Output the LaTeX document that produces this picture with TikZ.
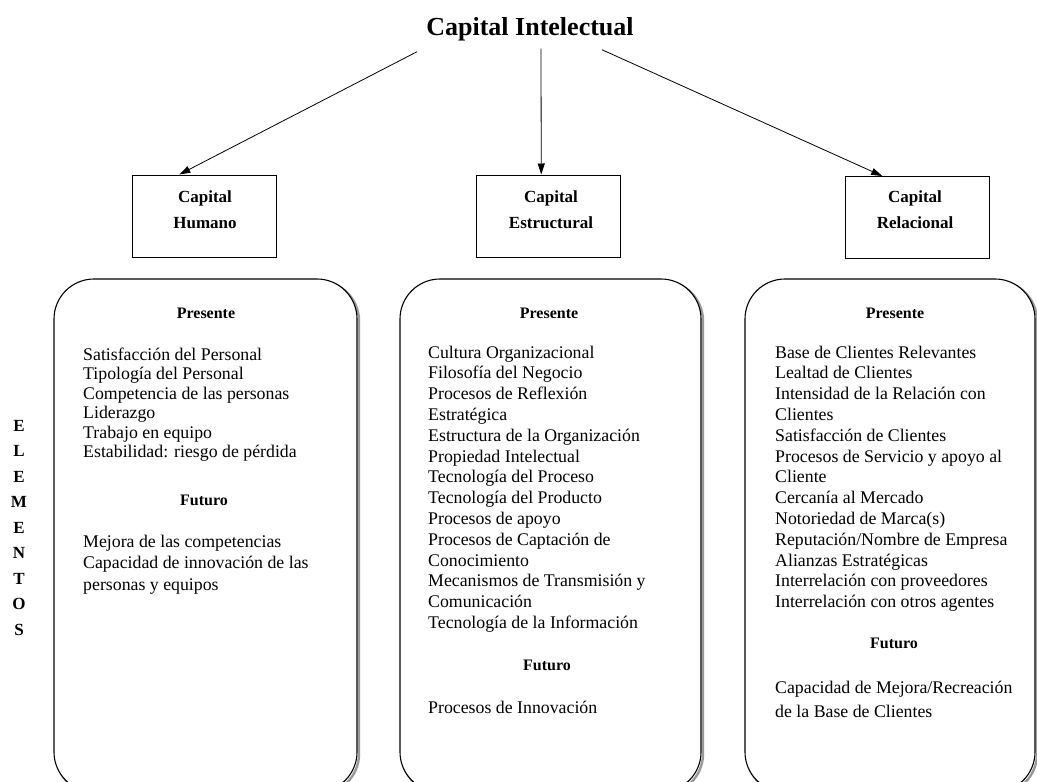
\documentclass[tikz,border=0pt]{standalone}
\usepackage{fontspec}
\setmainfont{Liberation Serif}
\usetikzlibrary{arrows.meta,calc}
\begin{document}
\begin{tikzpicture}[x=1pt,y=-1pt,
  item/.style={anchor=base west,inner sep=0pt,font=\fontsize{17.8}{20.8}\selectfont},
  head/.style={anchor=base,inner sep=0pt,font=\fontsize{16}{19}\selectfont\bfseries},
  title/.style={anchor=base,inner sep=0pt,font=\fontsize{26}{30}\selectfont\bfseries},
  capbox/.style={draw,line width=1pt,minimum width=144pt,minimum height=82pt,inner sep=0pt},
  caplabel/.style={align=center,font=\fontsize{17}{26}\selectfont\bfseries,inner sep=0pt},
  panel/.style={draw,line width=1.1pt,rounded corners=40pt,minimum height=513pt,inner sep=0pt},
  panelshadow/.style={draw=black!40,line width=2.4pt,rounded corners=40pt,minimum height=513pt,inner sep=0pt},
  link/.style={line width=0.8pt,-{Triangle[length=11pt,width=7pt]}},
  vletter/.style={anchor=base,inner sep=0pt,font=\fontsize{17}{20}\selectfont\bfseries}]
\useasboundingbox (0,0) rectangle (1037,782);
\fill[white] (0,0) rectangle (1037,782);
\clip (0,0) rectangle (1037,782);

% title and the three kinds of capital
\node[title] (ci) at (530,35) {Capital Intelectual};

\node[capbox] (hum) at (204,216) {};
\node[caplabel] (humt) at (205,210) {Capital\\Humano};
\node[capbox] (est) at (548.5,216) {};
\node[caplabel] (estt) at (551,210) {Capital\\Estructural};
\node[capbox] (rel) at (917,217.5) {};
\node[caplabel] (relt) at (915,210) {Capital\\Relacional};

\draw[link] ($(ci.south)+(-113,11)$) -- ($(hum.north west)!0.33!(hum.north east)$);
\draw[link] ($(ci.south)+(11,8)$) -- ($(est.north west)!0.45!(est.north east)$);
\draw[link] ($(ci.south)+(72,9)$) -- ($(rel.north west)!0.26!(rel.north east)$);

% rounded panels with a soft shadow
\node[panelshadow,minimum width=303pt] (phs) at (207.5,537.5) {};
\node[panel,fill=white,minimum width=303pt] (ph) at (205.5,535.5) {};
\node[panelshadow,minimum width=301pt] (pes) at (552.5,537.5) {};
\node[panel,fill=white,minimum width=301pt] (pe) at (550.5,535.5) {};
\node[panelshadow,minimum width=290pt] (prs) at (892,537.5) {};
\node[panel,fill=white,minimum width=290pt] (pr) at (890,535.5) {};

% Capital Humano
\node[head] (hp) at (206,318) {Presente};
\foreach \txt [count=\i from 0] in {Satisfacción del Personal,Tipología del Personal,Competencia de las personas,Liderazgo,Trabajo en equipo,Estabilidad: riesgo de pérdida}
  \node[item] (h\i) at (83,{360+19.5*\i}) {\txt};
\node[head] (hf) at (204,505) {Futuro};
\node[item] (hf1) at (83,547) {Mejora de las competencias};
\node[item] (hf2) at (83,568) {Capacidad de innovación de las};
\node[item] (hf3) at (83,590) {personas y equipos};

% Capital Estructural
\node[head] (ep) at (549,318) {Presente};
\foreach \txt [count=\i from 0] in {Cultura Organizacional,Filosofía del Negocio,Procesos de Reflexión,Estratégica,Estructura de la Organización,Propiedad Intelectual,Tecnología del Proceso,Tecnología del Producto,Procesos de apoyo,Procesos de Captación de,Conocimiento,Mecanismos de Transmisión y,Comunicación,Tecnología de la Información}
  \node[item] (e\i) at (428,{358+20.8*\i}) {\txt};
\node[head] (ef) at (547,670) {Futuro};
\node[item] (ef1) at (428,713) {Procesos de Innovación};

% Capital Relacional
\node[head] (rp) at (895,318) {Presente};
\foreach \txt [count=\i from 0] in {Base de Clientes Relevantes,Lealtad de Clientes,Intensidad de la Relación con,Clientes,Satisfacción de Clientes,Procesos de Servicio y apoyo al,Cliente,Cercanía al Mercado,Notoriedad de Marca(s),Reputación/Nombre de Empresa,Alianzas Estratégicas,Interrelación con proveedores,Interrelación con otros agentes}
  \node[item] (r\i) at (775,{358+20.8*\i}) {\txt};
\node[head] (rf) at (894,648) {Futuro};
\node[item] (rf1) at (775,693) {Capacidad de Mejora/Recreación};
\node[item] (rf2) at (775,717) {de la Base de Clientes};

% vertical side label
\foreach \ch [count=\i from 0] in {E,L,E,M,E,N,T,O,S}
  \node[vletter] (v\i) at (19,{431+25.5*\i}) {\ch};
\end{tikzpicture}
\end{document}
